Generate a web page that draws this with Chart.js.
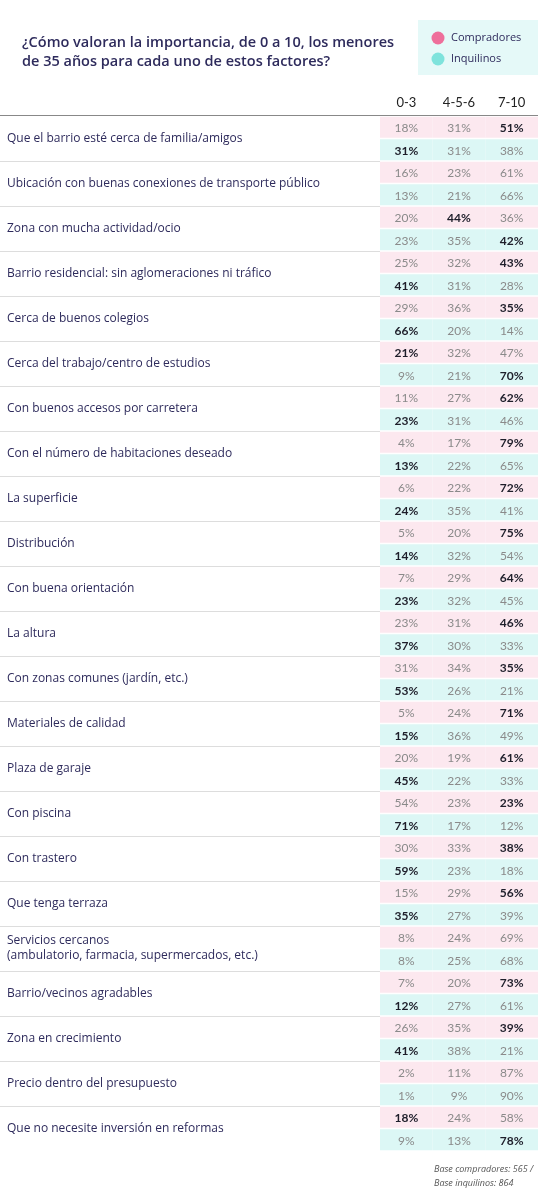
<!DOCTYPE html>
<html><head><meta charset="utf-8">
<script src="https://cdn.jsdelivr.net/npm/chart.js@4"></script>
<style>html,body{margin:0;padding:0;background:#fff}canvas{display:block}</style>
</head><body>
<canvas id="c" width="545" height="1200"></canvas>
<script>
const factors=["Que el barrio esté cerca de familia/amigos","Ubicación con buenas conexiones de transporte público","Zona con mucha actividad/ocio","Barrio residencial: sin aglomeraciones ni tráfico","Cerca de buenos colegios","Cerca del trabajo/centro de estudios","Con buenos accesos por carretera","Con el número de habitaciones deseado","La superficie","Distribución","Con buena orientación","La altura","Con zonas comunes (jardín, etc.)","Materiales de calidad","Plaza de garaje","Con piscina","Con trastero","Que tenga terraza","Servicios cercanos\n(ambulatorio, farmacia, supermercados, etc.)","Barrio/vecinos agradables","Zona en crecimiento","Precio dentro del presupuesto","Que no necesite inversión en reformas"];
const columns=["0-3","4-5-6","7-10"];
const compradores=[[18,31,51],[16,23,61],[20,44,36],[25,32,43],[29,36,35],[21,32,47],[11,27,62],[4,17,79],[6,22,72],[5,20,75],[7,29,64],[23,31,46],[31,34,35],[5,24,71],[20,19,61],[54,23,23],[30,33,38],[15,29,56],[8,24,69],[7,20,73],[26,35,39],[2,11,87],[18,24,58]];
const inquilinos=[[31,31,38],[13,21,66],[23,35,42],[41,31,28],[66,20,14],[9,21,70],[23,31,46],[13,22,65],[24,35,41],[14,32,54],[23,32,45],[37,30,33],[53,26,21],[15,36,49],[45,22,33],[71,17,12],[59,23,18],[35,27,39],[8,25,68],[12,27,61],[41,38,21],[1,9,90],[9,13,78]];
const boldC=[2,-1,1,2,2,0,2,2,2,2,2,2,2,2,2,2,2,2,-1,2,2,-1,0];
const boldI=[0,-1,2,0,0,2,0,0,0,0,0,0,0,0,0,0,0,0,-1,0,0,-1,2];
const seriesNames=["Compradores","Inquilinos"];

const PINK="#fce8ef",CYAN="#dcf7f5";
const rows=[],rowVals=[],rowBold=[],rowCol=[];
factors.forEach((f,i)=>{
  rows.push("c"+i);rowVals.push(compradores[i]);rowBold.push(boldC[i]);rowCol.push(PINK);
  rows.push("i"+i);rowVals.push(inquilinos[i]);rowBold.push(boldI[i]);rowCol.push(CYAN);
});
const datasets=columns.map((col,k)=>({label:col,data:rows.map(()=>1),backgroundColor:rowCol,borderWidth:0,barPercentage:1,categoryPercentage:0.93,stack:"s"}));

const deco={id:"deco",
beforeDatasetsDraw(ch){
  const ctx=ch.ctx,y=ch.scales.y,a=ch.chartArea;
  ctx.save();
  ctx.fillStyle="#2e2b5c";ctx.font="600 14.5px 'Open Sans'";ctx.textBaseline="alphabetic";ctx.textAlign="left";
  ctx.fillText("¿Cómo valoran la importancia, de 0 a 10, los menores",22,47);
  ctx.fillText("de 35 años para cada uno de estos factores?",22,66);
  ctx.fillStyle="#e5f9f8";ctx.fillRect(418,20,120,55);
  const lc=["#ee6f9b","#7ee3dc"];
  seriesNames.forEach((n,i)=>{ctx.fillStyle=lc[i];ctx.beginPath();ctx.arc(438,38+i*21,6.5,0,Math.PI*2);ctx.fill();
    ctx.fillStyle="#2e2b5c";ctx.font="500 11px 'Open Sans'";ctx.textBaseline="middle";ctx.fillText(n,451,38+i*21);});
  const xs=[0,1,2].map(k=>{const e=ch.getDatasetMeta(k).data[0];return (e.x+e.base)/2;});
  ctx.fillStyle="#222";ctx.font="13px Lato";ctx.textAlign="center";ctx.textBaseline="middle";
  columns.forEach((c,k)=>ctx.fillText(c,xs[k],103));
  ctx.strokeStyle="#888";ctx.lineWidth=1;ctx.beginPath();ctx.moveTo(0,115.5);ctx.lineTo(a.right,115.5);ctx.stroke();
  factors.forEach((f,i)=>{
    const y0=y.getPixelForValue(2*i),y1=y.getPixelForValue(2*i+1),mid=(y0+y1)/2;
    ctx.fillStyle="#2e2b5c";ctx.font="12px 'Open Sans'";ctx.textAlign="left";
    const ls=f.split("\n");ls.forEach((l,j)=>ctx.fillText(l,7,mid+(j-(ls.length-1)/2)*15));
    if(i<factors.length-1){const sep=Math.round(y1+(y1-y0)/2)+0.5;ctx.strokeStyle="#ddd";ctx.beginPath();ctx.moveTo(0,sep);ctx.lineTo(a.left,sep);ctx.stroke();}
  });
  ctx.fillStyle="#555";ctx.font="italic 9px 'Open Sans'";ctx.textAlign="left";ctx.textBaseline="alphabetic";
  ctx.fillText("Base compradores: 565 /",434,1172);ctx.fillText("Base inquilinos: 864",434,1186);
  ctx.restore();
},
afterDatasetsDraw(ch){
  const ctx=ch.ctx;ctx.save();ctx.textAlign="center";ctx.textBaseline="middle";
  columns.forEach((c,k)=>{ch.getDatasetMeta(k).data.forEach((e,r)=>{
    const b=rowBold[r]===k;ctx.font=(b?"bold ":"")+"12px Lato";ctx.fillStyle=b?"#1e1e2a":"#8a8a8a";
    ctx.fillText(rowVals[r][k]+"%",(e.x+e.base)/2,e.y+1);});});
  ctx.restore();
}};

new Chart(document.getElementById("c"),{type:"bar",data:{labels:rows,datasets},
options:{indexAxis:"y",responsive:false,animation:false,devicePixelRatio:1,
layout:{padding:{left:380,top:116,right:7,bottom:49}},
plugins:{legend:{display:false},tooltip:{enabled:false}},
scales:{x:{stacked:true,min:0,max:3,display:false},y:{stacked:true,display:false}}},
plugins:[deco]});
</script></body></html>
